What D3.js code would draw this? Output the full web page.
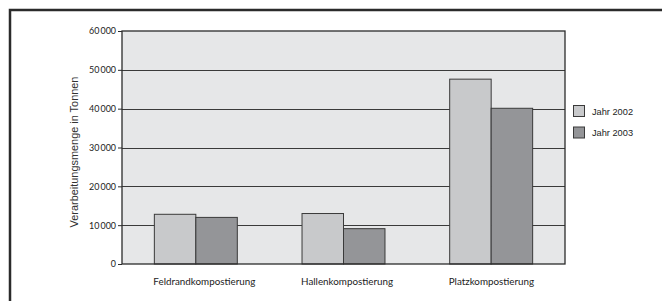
<!DOCTYPE html>
<html><head><meta charset="utf-8">
<script src="https://cdn.jsdelivr.net/npm/d3@7"></script>
<style>
html,body{margin:0;padding:0;background:#fff;}
svg{display:block;}
</style></head>
<body>
<svg id="c" width="662" height="301"></svg>
<script>
const categories = ["Feldrandkompostierung", "Hallenkompostierung", "Platzkompostierung"];
const seriesNames = ["Jahr 2002", "Jahr 2003"];
const values2002 = [12800, 13000, 47600];
const values2003 = [12000, 9100, 40100];
const yTicks = [0, 10000, 20000, 30000, 40000, 50000, 60000];
const yTitle = "Verarbeitungsmenge in Tonnen";
const colors = ["#c8c9cb", "#949598"];

const svg = d3.select("#c");
const W = 662, H = 301;
const m = {left: 122, right: 97, top: 31, bottom: 37};
const pw = W - m.left - m.right, ph = H - m.top - m.bottom;

// fit a selection's font size so that the first element's width matches target
function fitFont(sel, target) {
  const node = sel.node();
  const len = node.getComputedTextLength();
  const fs = parseFloat(sel.attr("font-size"));
  sel.attr("font-size", (fs * target / len).toFixed(2) + "px");
}

// outer frame (cropped)
svg.append("path").attr("d", `M10,${H+2} V10 H${W+2}`).attr("fill","none").attr("stroke","#2b2b2b").attr("stroke-width",2.5);

const g = svg.append("g").attr("transform", `translate(${m.left},${m.top})`);

const y = d3.scaleLinear().domain([0, 60000]).range([ph, 0]);
const x0 = d3.scaleBand().domain(categories).range([0, pw]).padding(0);
const x1 = d3.scaleBand().domain(seriesNames).range([0, x0.bandwidth()]).paddingInner(0).paddingOuter(0.78);

g.append("rect").attr("x",0).attr("y",0).attr("width",pw).attr("height",ph).attr("fill","#e6e7e8");

// gridlines
g.selectAll(".grid").data(yTicks.filter(t=>t>0 && t<60000)).enter().append("line")
  .attr("x1",0).attr("x2",pw).attr("y1",d=>Math.round(y(d))+0.5).attr("y2",d=>Math.round(y(d))+0.5)
  .attr("stroke","#3a3a3a").attr("stroke-width",1);

const loc = d3.formatLocale({decimal: ",", thousands: "\u2009", grouping: [3], currency: ["", "€"]});
const fmt = loc.format(",d");

const data = categories.map((c,i)=>({cat:c, vals:[{s:seriesNames[0], v:values2002[i]},{s:seriesNames[1], v:values2003[i]}]}));

const grp = g.selectAll(".grp").data(data).enter().append("g").attr("transform", d=>`translate(${x0(d.cat)},0)`);
grp.selectAll("rect").data(d=>d.vals).enter().append("rect")
  .attr("x", d=>x1(d.s)).attr("y", d=>y(d.v)).attr("width", x1.bandwidth()).attr("height", d=>ph - y(d.v))
  .attr("fill", (d,i)=>colors[i]).attr("stroke","#3a3a3a").attr("stroke-width",1);

// plot border
g.append("rect").attr("x",0).attr("y",0).attr("width",pw).attr("height",ph).attr("fill","none").attr("stroke","#2b2b2b").attr("stroke-width",1.3);

// y axis
const ya = g.append("g").call(d3.axisLeft(y).tickValues(yTicks).tickFormat(fmt).tickSize(4).tickPadding(2));
ya.select(".domain").remove();
ya.selectAll("line").attr("stroke","#2b2b2b");
const yt = ya.selectAll("text").attr("font-family","Lato, 'Open Sans', sans-serif").attr("font-size","9.5px").attr("fill","#222");
const topTick = ya.selectAll("text").filter(d=>d===60000);
fitFont(topTick, 27);
yt.attr("font-size", topTick.attr("font-size"));

// x axis labels (start-aligned at first bar)
const xa = g.append("g").attr("transform",`translate(0,${ph})`).call(d3.axisBottom(x0).tickSize(0).tickPadding(14));
xa.select(".domain").remove();
const xt = xa.selectAll("text").attr("font-family","Lato, 'Open Sans', sans-serif").attr("font-size","9.5px").attr("fill","#222")
  .attr("text-anchor","start").attr("x", -x0.bandwidth()/2 + x1(seriesNames[0]) - 1);
fitFont(xt.filter(d=>d===categories[0]), 102);
xt.attr("font-size", xt.filter(d=>d===categories[0]).attr("font-size"));

// y title
const ttl = svg.append("text").attr("transform",`translate(78,152) rotate(-90)`).attr("text-anchor","middle")
  .attr("font-family","'Liberation Sans', Arial, sans-serif").attr("font-size","9.5px").attr("fill","#333").text(yTitle);
fitFont(ttl, 151);

// legend
const lg = svg.append("g").attr("transform","translate(573,105)");
seriesNames.forEach((s,i)=>{
  const r = lg.append("g").attr("transform",`translate(0,${i*21.5})`);
  r.append("rect").attr("x",0.5).attr("y",0.5).attr("width",11).attr("height",11).attr("fill",colors[i]).attr("stroke","#3a3a3a");
  const t = r.append("text").attr("x",19).attr("y",9.5).attr("font-family","'Liberation Sans', Arial, sans-serif").attr("font-size","10px").attr("fill","#222").text(s);
  fitFont(t, 41);
});
</script>
</body></html>
